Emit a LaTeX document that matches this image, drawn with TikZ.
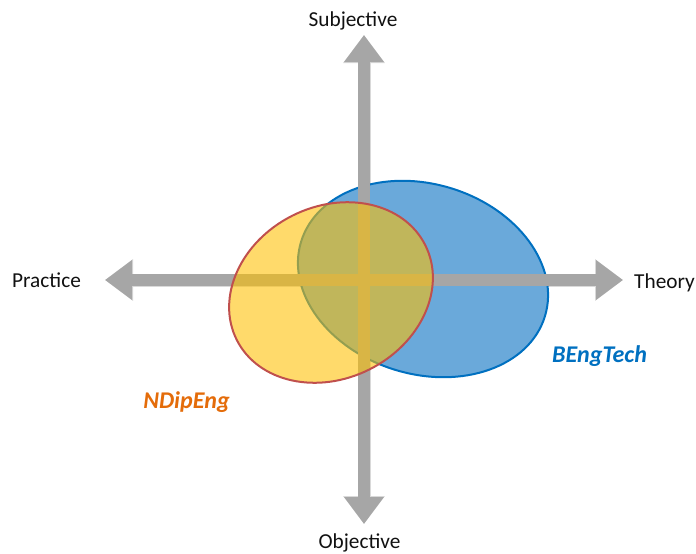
\documentclass[tikz,border=0pt]{standalone}
\usepackage{fontspec}
\setmainfont{Carlito}
\usetikzlibrary{arrows.meta,shapes.geometric}
\definecolor{axisgray}{HTML}{A6A6A6}
\definecolor{axisshade}{HTML}{D9D9D9}
\definecolor{bengfill}{HTML}{6AA9DA}
\definecolor{bengline}{HTML}{0070C0}
\definecolor{ndipfill}{HTML}{FFC000}
\definecolor{ndipline}{HTML}{C0504D}
\definecolor{ndiptext}{HTML}{E46C0A}
\definecolor{labeltext}{HTML}{111111}
\begin{document}
\begin{tikzpicture}[x=1pt,y=-1pt,
  axis/.style={draw=axisgray, line width=12pt,
    {Triangle[width=38pt,length=27pt]}-{Triangle[width=38pt,length=27pt]}},
  axisshadow/.style={draw=axisshade, line width=13pt,
    {Triangle[width=40pt,length=28pt]}-{Triangle[width=40pt,length=28pt]}},
  zone/.style={ellipse, inner sep=0pt, line width=2pt},
  axislabel/.style={anchor=base, text=labeltext, font=\fontsize{21.3}{26}\selectfont},
  setlabel/.style={anchor=base, font=\fontsize{24}{29}\selectfont\bfseries\itshape}]

\useasboundingbox (0,0) rectangle (696,554);

% axis end points
\coordinate (up)    at (364,35);
\coordinate (down)  at (364,524);
\coordinate (left)  at (105,280);
\coordinate (right) at (623,280);

% soft shadow under the axes
\begin{scope}[shift={(1.5,1.5)}]
  \draw[axisshadow] (down) -- (up);
  \draw[axisshadow] (left) -- (right);
\end{scope}

% BEngTech region
\node[zone, fill=bengfill, draw=bengline, minimum width=255pt, minimum height=190pt,
      rotate=-17] (beng) at (423,279) {};

% axes
\draw[axis] (down) -- (up);
\draw[axis] (left) -- (right);

% NDipEng region, translucent
\node[zone, fill=ndipfill, fill opacity=0.58, draw=ndipline, minimum width=211pt,
      minimum height=172pt, rotate=26.7] (ndip) at (331,292.5) {};

% axis labels
\node[axislabel] (subj)  at (353,27)    {Subjective};
\node[axislabel] (obj)   at (359.5,548) {Objective};
\node[axislabel] (prac)  at (46.5,287)  {Practice};
\node[axislabel] (theo)  at (664.5,288) {Theory};

% region labels
\node[setlabel, text=bengline] (bengname) at (599.5,362) {BEngTech};
\node[setlabel, text=ndiptext] (ndipname) at (186.5,408) {NDipEng};
\end{tikzpicture}
\end{document}
